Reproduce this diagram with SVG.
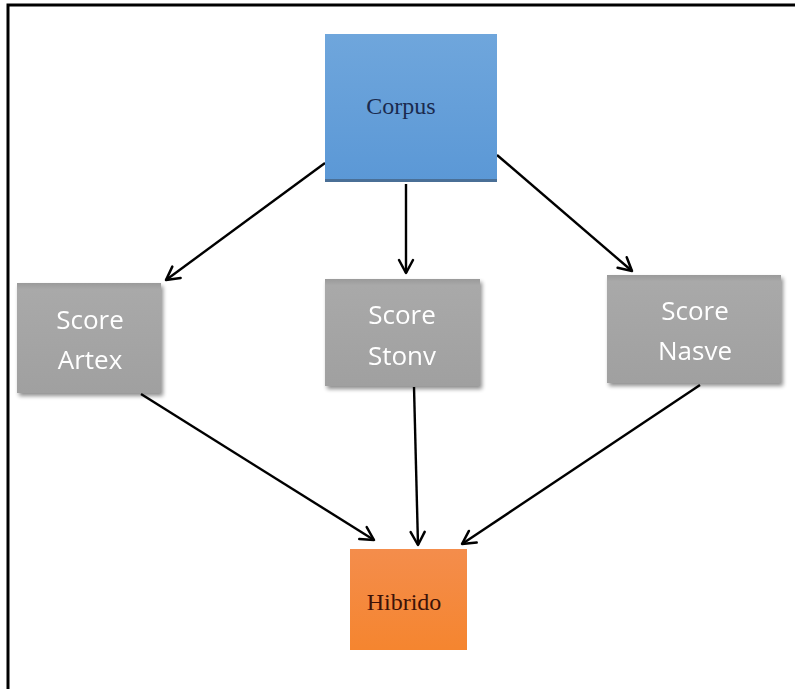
<svg xmlns="http://www.w3.org/2000/svg" width="795" height="689" viewBox="0 0 795 689">
  <defs>
    <linearGradient id="gBlue" x1="0" y1="0" x2="0" y2="1">
      <stop offset="0" stop-color="#6fa6dc"/>
      <stop offset="1" stop-color="#5b98d6"/>
    </linearGradient>
    <linearGradient id="gGray" x1="0" y1="0" x2="0" y2="1">
      <stop offset="0" stop-color="#9a9a9a"/>
      <stop offset="0.06" stop-color="#a9a9a9"/>
      <stop offset="1" stop-color="#a0a0a0"/>
    </linearGradient>
    <linearGradient id="gOrange" x1="0" y1="0" x2="0" y2="1">
      <stop offset="0" stop-color="#f48d4c"/>
      <stop offset="1" stop-color="#f5852f"/>
    </linearGradient>
    <filter id="shadow" x="-10%" y="-10%" width="125%" height="130%">
      <feGaussianBlur in="SourceAlpha" stdDeviation="2"/>
      <feOffset dx="2" dy="3" result="b"/>
      <feComponentTransfer><feFuncA type="linear" slope="0.45"/></feComponentTransfer>
      <feMerge><feMergeNode/><feMergeNode in="SourceGraphic"/></feMerge>
    </filter>
    <marker id="arrow" viewBox="0 0 18 18" refX="15" refY="9" markerWidth="18" markerHeight="18" markerUnits="userSpaceOnUse" orient="auto">
      <path d="M2,2 L15,9 L2,16" fill="none" stroke="#000" stroke-width="2.5" stroke-linecap="round" stroke-linejoin="round"/>
    </marker>
  </defs>
  <style>
    .edge { stroke: #000; stroke-width: 2.4; fill: none; marker-end: url(#arrow); }
    .serif { font-family: "Liberation Serif", "DejaVu Serif", serif; font-size: 24px; text-anchor: middle; }
    .score { font-family: "Open Sans", "Liberation Sans", sans-serif; font-size: 26px; fill: #ffffff; text-anchor: middle; }
  </style>

  <rect width="795" height="689" fill="#ffffff"/>
  <!-- page frame -->
  <path d="M8,689 V5 H795" fill="none" stroke="#000" stroke-width="3"/>

  <g id="connectors">
    <line class="edge" x1="325" y1="163" x2="166" y2="280"/>
    <line class="edge" x1="406" y1="184" x2="406" y2="273"/>
    <line class="edge" x1="497" y1="155" x2="632" y2="271"/>
    <line class="edge" x1="141" y1="394" x2="374" y2="540"/>
    <line class="edge" x1="414" y1="387" x2="418" y2="545"/>
    <line class="edge" x1="700" y1="385" x2="462" y2="544"/>
  </g>

  <g id="corpus">
    <rect x="325" y="34" width="172" height="147" fill="url(#gBlue)"/>
    <rect x="325" y="179" width="172" height="3" fill="#4a6f96"/>
    <text class="serif" x="401" y="114" fill="#1a2a4e">Corpus</text>
  </g>

  <g id="score-artex" filter="url(#shadow)">
    <rect x="17" y="283" width="144" height="110" fill="url(#gGray)"/>
    <text class="score" x="90" y="329">Score</text>
    <text class="score" x="90" y="369">Artex</text>
  </g>

  <g id="score-stonv" filter="url(#shadow)">
    <rect x="325" y="279" width="155" height="107" fill="url(#gGray)"/>
    <text class="score" x="402" y="324">Score</text>
    <text class="score" x="402" y="365">Stonv</text>
  </g>

  <g id="score-nasve" filter="url(#shadow)">
    <rect x="607" y="275" width="174" height="108" fill="url(#gGray)"/>
    <text class="score" x="695" y="320">Score</text>
    <text class="score" x="695" y="360">Nasve</text>
  </g>

  <g id="hibrido">
    <rect x="350" y="549" width="117" height="101" fill="url(#gOrange)"/>
    <text class="serif" x="404" y="610" fill="#3d1208">Hibrido</text>
  </g>
</svg>
